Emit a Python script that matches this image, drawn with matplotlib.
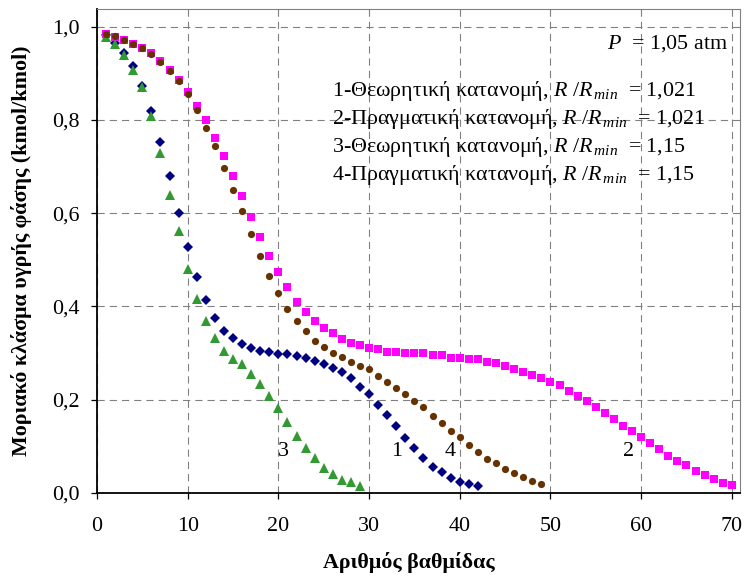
import matplotlib
matplotlib.use("Agg")
import matplotlib.pyplot as plt
from matplotlib.ticker import FixedLocator

plt.rcParams['font.family'] = ['Liberation Serif', 'DejaVu Serif']
plt.rcParams['mathtext.fontset'] = 'custom'
plt.rcParams['mathtext.rm'] = 'Liberation Serif'
plt.rcParams['mathtext.it'] = 'Liberation Serif:italic'
plt.rcParams['mathtext.bf'] = 'Liberation Serif:bold'

FS = 15.8

# Liquid-phase mole fraction per stage
theor_1021 = [0.982, 0.966, 0.943, 0.915, 0.872, 0.820, 0.752, 0.679, 0.601, 0.527,
              0.464, 0.413, 0.375, 0.348, 0.332, 0.319, 0.310, 0.305, 0.302, 0.299,
              0.299, 0.294, 0.289, 0.284, 0.276, 0.268, 0.259, 0.246, 0.228, 0.212,
              0.189, 0.167, 0.144, 0.119, 0.096, 0.074, 0.056, 0.044, 0.032, 0.023,
              0.019, 0.015]
real_1021 = [0.984, 0.979, 0.971, 0.963, 0.955, 0.943, 0.927, 0.908, 0.885, 0.860,
             0.830, 0.800, 0.762, 0.723, 0.680, 0.637, 0.592, 0.549, 0.509, 0.475,
             0.441, 0.410, 0.389, 0.368, 0.354, 0.343, 0.330, 0.321, 0.318, 0.312,
             0.308, 0.303, 0.303, 0.300, 0.300, 0.300, 0.295, 0.295, 0.290, 0.290,
             0.287, 0.287, 0.282, 0.278, 0.273, 0.265, 0.260, 0.252, 0.247, 0.239,
             0.232, 0.219, 0.209, 0.197, 0.184, 0.172, 0.158, 0.144, 0.133, 0.120,
             0.107, 0.094, 0.080, 0.069, 0.060, 0.047, 0.039, 0.030, 0.022, 0.017]
theor_115 = [0.978, 0.963, 0.940, 0.908, 0.870, 0.808, 0.730, 0.640, 0.562, 0.481,
             0.416, 0.369, 0.332, 0.305, 0.287, 0.276, 0.255, 0.233, 0.207, 0.183,
             0.152, 0.122, 0.096, 0.074, 0.053, 0.041, 0.028, 0.024, 0.015]
real_115 = [0.984, 0.981, 0.972, 0.963, 0.954, 0.941, 0.924, 0.904, 0.883, 0.856,
            0.822, 0.783, 0.745, 0.698, 0.650, 0.604, 0.556, 0.509, 0.466, 0.428,
            0.394, 0.368, 0.347, 0.326, 0.313, 0.300, 0.291, 0.282, 0.273, 0.265,
            0.251, 0.239, 0.226, 0.212, 0.197, 0.184, 0.166, 0.150, 0.133, 0.120,
            0.103, 0.089, 0.072, 0.064, 0.051, 0.042, 0.035, 0.026, 0.019]

x_ticks = [0, 10, 20, 30, 40, 50, 60, 70]
x_tick_labels = ['0', '10', '20', '30', '40', '50', '60', '70']
y_ticks = [0.0, 0.2, 0.4, 0.6, 0.8, 1.0]
y_tick_labels = ['0,0', '0,2', '0,4', '0,6', '0,8', '1,0']

legend_lines = [
    r'1-Θεωρητική κατανομή, $R\ /R_{\,min}\ $ = 1,021',
    r'2-Πραγματική κατανομή, $R\ /R_{\,min}\ $ = 1,021',
    r'3-Θεωρητική κατανομή, $R\ /R_{\,min}\ $ = 1,15',
    r'4-Πραγματική κατανομή, $R\ /R_{\,min}\ $ = 1,15',
]
pressure_text = r'$P\ $ = 1,05 atm'
curve_ids = ['1', '2', '3', '4']
curve_label_x = [33.0, 58.6, 20.6, 38.9]
curve_label_y = [0.079, 0.079, 0.079, 0.079]

fig = plt.figure(figsize=(7.44, 5.76), dpi=100)
ax = fig.add_axes([97 / 744, 1 - 493 / 576, (740 - 97) / 744, (493 - 9) / 576])

def stages(vals):
    return list(range(1, len(vals) + 1))

ax.plot(stages(theor_1021), theor_1021, linestyle='none', marker='D', markersize=5.4,
        color='#000080', markeredgewidth=0, zorder=3)
ax.plot(stages(real_1021), real_1021, linestyle='none', marker='s', markersize=5.4,
        color='#FF00FF', markeredgewidth=0, zorder=3)
ax.plot(stages(theor_115), theor_115, linestyle='none', marker='^', markersize=7.0,
        color='#339933', markeredgewidth=0, zorder=3)
ax.plot(stages(real_115), real_115, linestyle='none', marker='o', markersize=5.2,
        color='#663300', markeredgewidth=0, zorder=3)

ax.set_xlim(0, 70.9)
ax.set_ylim(0, 1.038)
ax.xaxis.set_major_locator(FixedLocator(x_ticks))
ax.yaxis.set_major_locator(FixedLocator(y_ticks))
ax.set_xticklabels(x_tick_labels)
ax.set_yticklabels(y_tick_labels)
ax.tick_params(axis='both', direction='out', length=4.3, width=0.9, labelsize=FS,
               colors='black')
ax.tick_params(axis='y', pad=8)
ax.tick_params(axis='x', pad=13)

ax.grid(True, color='#808080', linewidth=0.8, linestyle=(0, (6.5, 4.5)), zorder=1)

for side in ('left', 'bottom'):
    ax.spines[side].set_color('black')
    ax.spines[side].set_linewidth(1.3)
for side in ('top', 'right'):
    ax.spines[side].set_color('#808080')
    ax.spines[side].set_linewidth(0.8)

ax.set_xlabel('Αριθμός βαθμίδας', fontsize=FS, fontweight='bold')
ax.set_ylabel('Μοριακό κλάσμα υγρής φάσης (kmol/kmol)', fontsize=FS, fontweight='bold')
ax.xaxis.label.set_verticalalignment('center')
ax.xaxis.set_label_coords(0.485, -0.1426)
ax.yaxis.label.set_verticalalignment('center')
ax.yaxis.set_label_coords(-0.118, 0.5)

ax.text(0.981, 0.9188, pressure_text, transform=ax.transAxes, ha='right',
        va='baseline', fontsize=FS)
legend_y = [0.8202, 0.7624, 0.7052, 0.6467]
for txt, yy in zip(legend_lines, legend_y):
    ax.text(0.3655, yy, txt, transform=ax.transAxes, ha='left', va='baseline', fontsize=FS)

for lab, xx, yy in zip(curve_ids, curve_label_x, curve_label_y):
    ax.text(xx, yy, lab, ha='center', va='baseline', fontsize=FS)

fig.savefig('out.png', dpi=100)
